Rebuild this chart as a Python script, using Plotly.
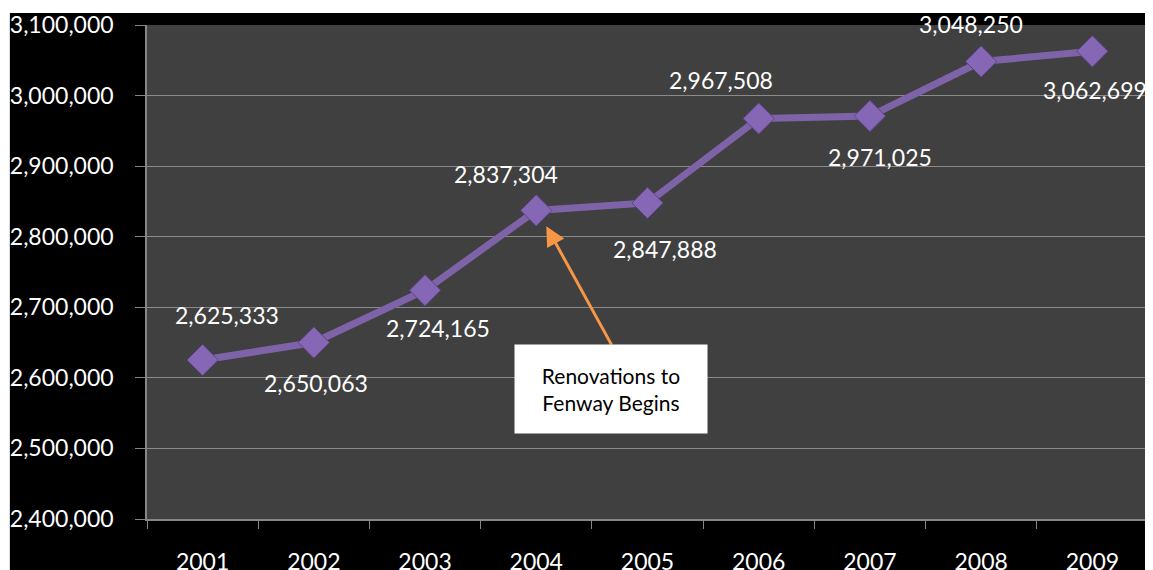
import plotly.graph_objects as go

years = ["2001", "2002", "2003", "2004", "2005", "2006", "2007", "2008", "2009"]
attendance = [2625333, 2650063, 2724165, 2837304, 2847888, 2967508, 2971025, 3048250, 3062699]
y_ticks = [2400000, 2500000, 2600000, 2700000, 2800000, 2900000, 3000000, 3100000]

# label offsets in pixels (style)
label_dx = [24, 2, 13, -30, 17, -38, 10, -10, 3]
label_dy = [-45, 40, 38, -36, 46, -39, 41, -38, 39]

FONT = "Lato, 'Open Sans', sans-serif"
PURPLE = "#7F63A8"

fig = go.Figure()
fig.add_trace(go.Scatter(
    x=years, y=attendance, mode="lines+markers",
    line=dict(color=PURPLE, width=7),
    marker=dict(symbol="diamond", size=24, color="#8667B5",
                line=dict(color="#5E4489", width=1)),
    hoverinfo="x+y", showlegend=False,
))

for i, v in enumerate(attendance):
    fig.add_annotation(x=i, y=v, xref="x", yref="y", text=f"{v:,}", showarrow=False,
                       xshift=label_dx[i], yshift=-label_dy[i],
                       font=dict(family=FONT, size=23, color="white"))

# arrow to 2004
fig.add_annotation(x=3.09, y=2815000, xref="x", yref="y", text="",
                   showarrow=True, arrowhead=2, arrowsize=1.3, arrowwidth=3,
                   arrowcolor="#F79646", ax=66, ay=120)
# note box
fig.add_annotation(x=3.67, y=2584000, xref="x", yref="y",
                   text="Renovations to<br>Fenway Begins", showarrow=False,
                   bgcolor="white", width=186, height=82, borderpad=3,
                   font=dict(family=FONT, size=21, color="black"))

# backgrounds
fig.add_shape(type="rect", xref="paper", yref="paper",
              x0=-0.137, x1=1.02, y0=-0.2, y1=1.0243,
              fillcolor="black", line=dict(width=0), layer="below")
fig.add_shape(type="rect", xref="paper", yref="paper",
              x0=0, x1=1, y0=0, y1=1,
              fillcolor="#404040", line=dict(width=0), layer="below")

fig.update_layout(
    width=1153, height=570,
    margin=dict(l=139, r=13, t=17, b=59, autoexpand=False),
    paper_bgcolor="white", plot_bgcolor="#404040",
    font=dict(family=FONT, color="white"),
    xaxis=dict(type="category", range=[-0.5, 8.5], tickson="boundaries",
               ticks="outside", ticklen=8, tickcolor="#868686",
               showline=True, linecolor="#868686", linewidth=1.5,
               showgrid=False, tickfont=dict(size=23, color="white"),
               ticklabelstandoff=22, fixedrange=True, automargin=False),
    yaxis=dict(range=[2400000, 3100000], tickvals=y_ticks,
               ticktext=[f"{t:,}" for t in y_ticks],
               ticks="outside", ticklen=10, tickcolor="#868686",
               showline=True, linecolor="#868686", linewidth=1.5,
               showgrid=True, gridcolor="#8a8a8a", gridwidth=1,
               zeroline=False, tickfont=dict(size=23, color="white"),
               ticklabelstandoff=17, fixedrange=True, automargin=False),
)

fig.write_html("out.html")
